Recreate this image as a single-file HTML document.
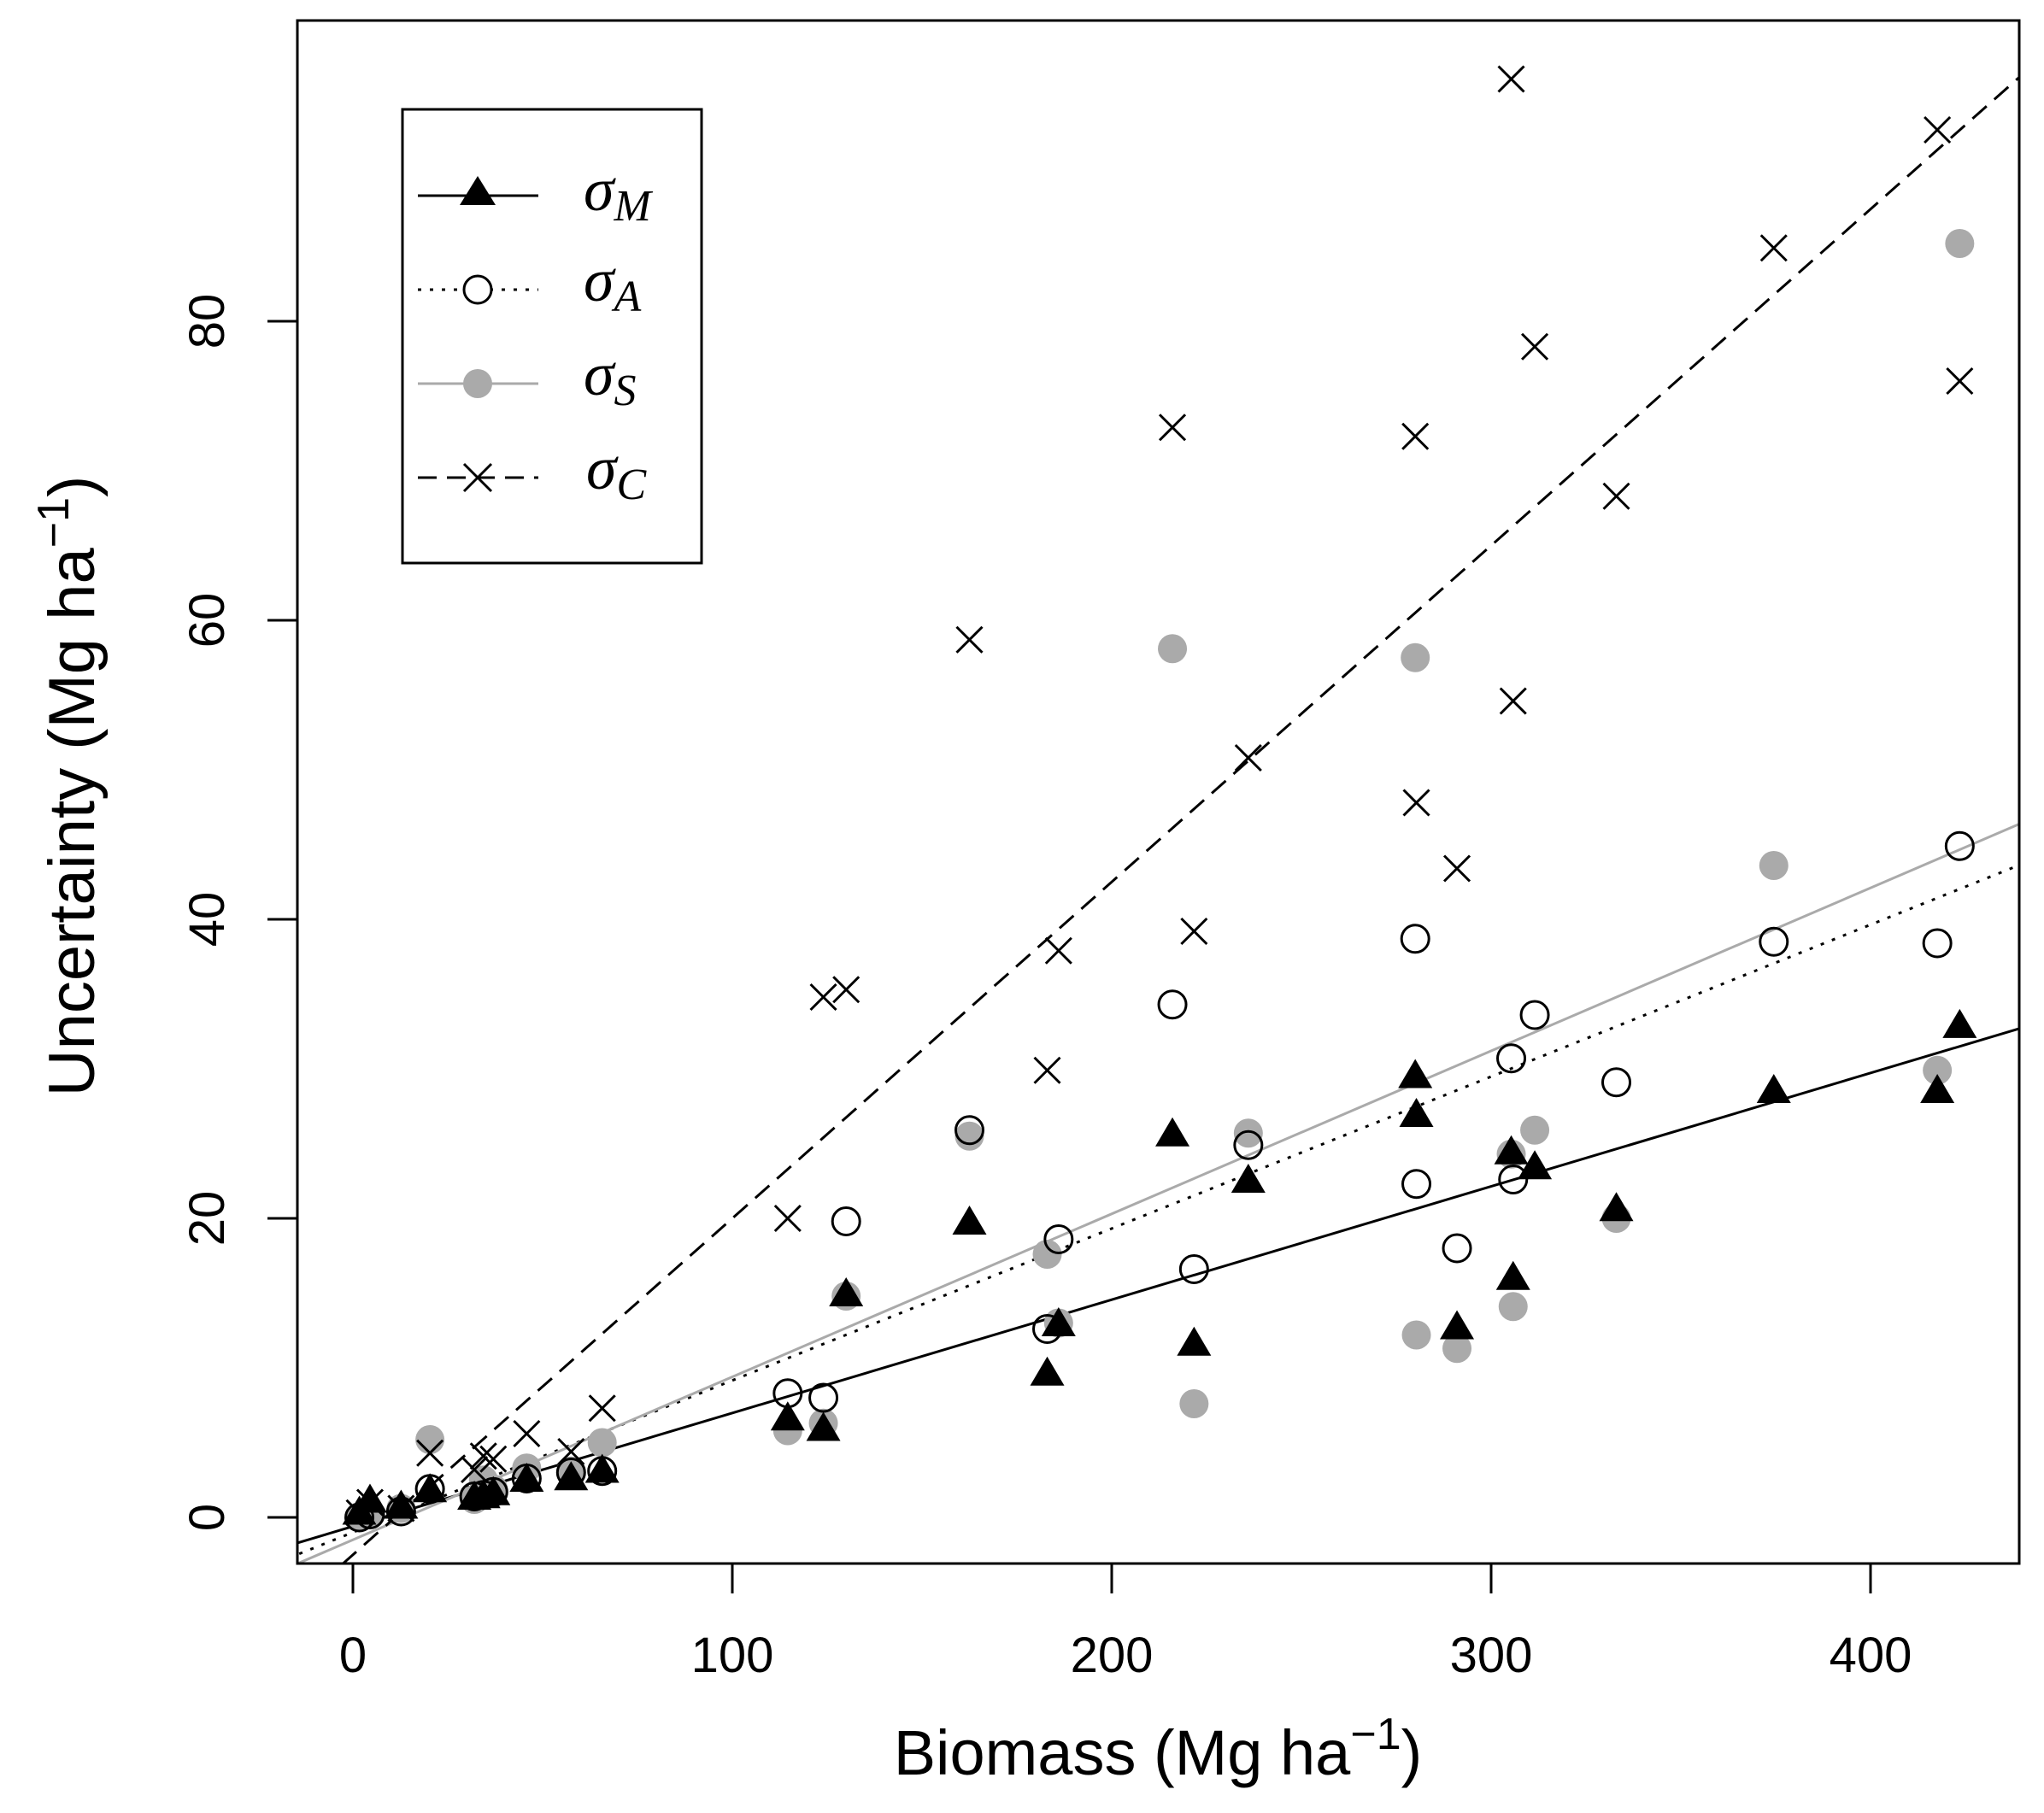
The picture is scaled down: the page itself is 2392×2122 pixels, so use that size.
<!DOCTYPE html>
<html><head><meta charset="utf-8"><style>
html,body{margin:0;padding:0;background:#fff;}
svg{display:block;}
text{font-family:"Liberation Sans",sans-serif;fill:#000;}
text.serif{font-family:"Liberation Serif",serif;font-style:italic;}
</style></head><body>
<svg id="chart" xmlns="http://www.w3.org/2000/svg" width="2392" height="2122" viewBox="0 0 2392 2122">
<rect x="0" y="0" width="2392" height="2122" fill="#fff"/>
<defs><clipPath id="plotclip"><rect x="348" y="24" width="2015" height="1806"/></clipPath></defs>
<g id="lines" clip-path="url(#plotclip)"></g>
<g id="points" clip-path="url(#plotclip)"></g>
<rect x="348" y="24" width="2015" height="1806" fill="none" stroke="#000" stroke-width="3"/>
<g id="xaxis"></g>
<g id="yaxis"></g>
<text x="1355" y="2077" font-size="74" text-anchor="middle">Biomass (Mg ha<tspan dy="-30" font-size="52">−1</tspan><tspan dy="30">)</tspan></text>
<text transform="translate(110,920) rotate(-90)" font-size="76" text-anchor="middle">Uncertainty (Mg ha<tspan dy="-30" font-size="52">−1</tspan><tspan dy="30">)</tspan></text>
<g>
<rect x="471" y="128" width="350" height="531" fill="#fff" stroke="#000" stroke-width="3"/>
<g>
<line x1="489" y1="229" x2="630" y2="229" stroke="#000" stroke-width="3"/>
<polygon points="559,206 580,240 538,240" fill="#000"/>
<text class="serif" x="683" y="246" font-size="72">σ<tspan font-size="52" dy="12">M</tspan></text>
</g>
<g>
<line x1="489" y1="339" x2="630" y2="339" stroke="#000" stroke-width="3" stroke-dasharray="4,10"/>
<circle cx="559" cy="339" r="16" fill="#fff" stroke="#000" stroke-width="3"/>
<text class="serif" x="683" y="352" font-size="72">σ<tspan font-size="52" dy="12">A</tspan></text>
</g>
<g>
<line x1="489" y1="449" x2="630" y2="449" stroke="#aaa" stroke-width="3"/>
<circle cx="559" cy="449" r="17" fill="#aaa"/>
<text class="serif" x="683" y="462" font-size="72">σ<tspan font-size="52" dy="12">S</tspan></text>
</g>
<g>
<line x1="489" y1="559" x2="630" y2="559" stroke="#000" stroke-width="3" stroke-dasharray="22,12"/>
<path d="M543,543 L575,575 M543,575 L575,543" stroke="#000" stroke-width="3"/>
<text class="serif" x="686" y="572" font-size="72">σ<tspan font-size="52" dy="12">C</tspan></text>
</g>
</g>
</svg>
<script>
const biomass = [423.5,417.6,374.5,333,311.5,305.3,305.8,291,280,280.3,236,221.7,216,186,183,162.5,130,124,114.6,65.7,57.5,45.8,37,34.4,32,20.3,12.7,4.5,1.7];
const sigmaM = [32.75,28.4,28.4,20.5,23.3,24.3,15.9,12.6,29.4,26.8,22.4,11.5,25.5,12.8,9.5,19.6,14.8,5.8,6.5,3.0,2.5,2.4,1.5,1.3,1.2,1.7,0.6,1.0,0.2];
const sigmaA = [44.9,38.4,38.5,29.1,33.6,30.7,22.6,18.0,38.7,22.3,24.9,16.6,34.3,18.6,12.6,25.9,19.8,8.0,8.3,3.1,3.0,2.6,1.7,1.5,1.4,1.9,0.4,0.2,0];
const sigmaS = [85.2,29.9,43.6,20.0,25.9,24.3,14.1,11.3,57.5,12.2,25.7,7.6,58.1,13.0,17.6,25.5,14.8,6.3,5.8,5.0,3.1,3.3,1.9,2.5,1.2,5.2,0.6,0.2,0];
const sigmaC = [76.0,92.8,84.9,68.3,78.3,96.2,54.6,43.4,72.3,47.8,50.8,39.2,72.9,37.9,29.9,58.7,35.3,34.8,20.0,7.3,4.4,5.6,3.9,4.1,3.2,4.3,0.6,1.0,0.3];
const fitIntercepts = [-0.6,-1.0,-1.5,-2.5];
const fitSlopes = [0.0758,0.1016,0.109,0.225];
const xTicks = [0,100,200,300,400];
const yTicks = [0,20,40,60,80];

const NS = "http://www.w3.org/2000/svg";
function sx(v){ return 413 + v*4.44; }
function sy(v){ return 1776 - v*17.5; }
function mk(tag, attrs, parent){
  const e = document.createElementNS(NS, tag);
  for (const k in attrs) e.setAttribute(k, attrs[k]);
  parent.appendChild(e);
  return e;
}
const gl = document.getElementById('lines');
const gp = document.getElementById('points');
const gx = document.getElementById('xaxis');
const gy = document.getElementById('yaxis');

xTicks.forEach(t => {
  const l = mk('line', {x1:sx(t), x2:sx(t), y1:1830, y2:1865, stroke:'#000', 'stroke-width':3}, gx);
  
  
  const tx = mk('text', {x:sx(t), y:1957, 'font-size':58, 'text-anchor':'middle'}, gx);
  tx.textContent = t;
  
  
});
yTicks.forEach(t => {
  const l = mk('line', {x1:313, x2:348, y1:sy(t), y2:sy(t), stroke:'#000', 'stroke-width':3}, gy);
  
  
  const tx = mk('text', {transform:'translate(262,'+sy(t)+') rotate(-90)', 'font-size':58, 'text-anchor':'middle'}, gy);
  tx.textContent = t;
  
  
});

const lineStyles = [
  {stroke:'#000', w:3, dash:''},
  {stroke:'#000', w:3, dash:'4,10'},
  {stroke:'#aaa', w:3, dash:''},
  {stroke:'#000', w:3, dash:'22,12'}
];
const lineNames = ['fit-line-m','fit-line-a','fit-line-s','fit-line-c'];
fitIntercepts.forEach((b, i) => {
  const x0 = -20, x1 = 450;
  const attrs = {x1:sx(x0), y1:sy(b + fitSlopes[i]*x0), x2:sx(x1), y2:sy(b + fitSlopes[i]*x1), stroke:lineStyles[i].stroke, 'stroke-width':lineStyles[i].w};
  if (lineStyles[i].dash) attrs['stroke-dasharray'] = lineStyles[i].dash;
  const l = mk('line', attrs, gl);
  
  
});

biomass.forEach((b, i) => {
  const c = mk('circle', {cx:sx(b), cy:sy(sigmaS[i]), r:17, fill:'#aaa'}, gp);
  
  
});
biomass.forEach((b, i) => {
  const x = sx(b), y = sy(sigmaM[i]);
  const p = mk('polygon', {points:(x)+','+(y-22)+' '+(x+20)+','+(y+12)+' '+(x-20)+','+(y+12), fill:'#000'}, gp);
  
  
});
biomass.forEach((b, i) => {
  const c = mk('circle', {cx:sx(b), cy:sy(sigmaA[i]), r:16, fill:'none', stroke:'#000', 'stroke-width':3}, gp);
  
  
});
biomass.forEach((b, i) => {
  const x = sx(b), y = sy(sigmaC[i]), d = 15;
  const p = mk('path', {d:'M'+(x-d)+','+(y-d)+' L'+(x+d)+','+(y+d)+' M'+(x-d)+','+(y+d)+' L'+(x+d)+','+(y-d), stroke:'#000', 'stroke-width':3, fill:'none'}, gp);
  
  
});
</script>
</body></html>
